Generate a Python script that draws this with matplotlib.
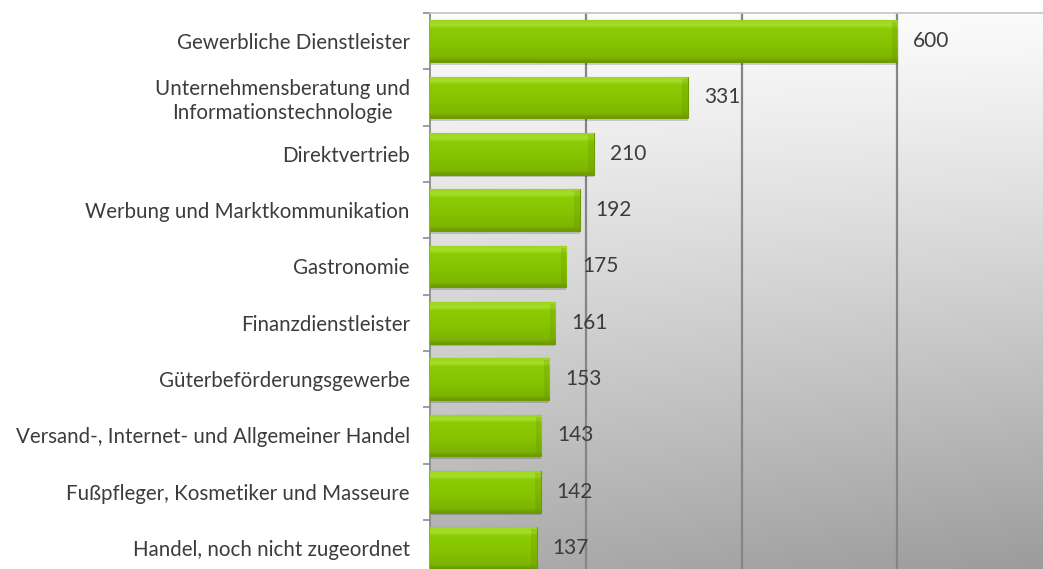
import numpy as np
import matplotlib.pyplot as plt
from matplotlib.colors import LinearSegmentedColormap

# categories, top to bottom
labels = ['Gewerbliche Dienstleister',
          'Unternehmensberatung und\nInformationstechnologie',
          'Direktvertrieb',
          'Werbung und Marktkommunikation',
          'Gastronomie',
          'Finanzdienstleister',
          'Güterbeförderungsgewerbe',
          'Versand-, Internet- und Allgemeiner Handel',
          'Fußpfleger, Kosmetiker und Masseure',
          'Handel, noch nicht zugeordnet']
values = [600, 331, 210, 192, 175, 161, 153, 143, 142, 137]
grid_ticks = [200, 400, 600]

plt.rcParams['font.family'] = ['Lato', 'DejaVu Sans']

W, H = 1043, 569
fig = plt.figure(figsize=(W / 100, H / 100), dpi=100)
ax = fig.add_axes([430 / W, 1 - 576.3 / H, 613 / W, 563.3 / H])

y = np.arange(len(values))
ax.set_xlim(0, 787)
ax.set_ylim(len(values) - 0.5, -0.5)

# plot-area background: light at top, grey at bottom, a bit darker right
gy = np.linspace(0, 1, 200)[:, None]
gx = np.linspace(0, 1, 200)[None, :]
shade = 0.985 - 0.31 * gy ** 1.15 - 0.07 * gx * gy
bg = np.dstack([shade, shade, shade])
ax.imshow(bg, extent=[0, 1, 0, 1], transform=ax.transAxes, aspect='auto',
          origin='upper', zorder=0, interpolation='bilinear')

for g in grid_ticks:
    ax.axvline(g, color='#858585', lw=1.6, zorder=1)

h = 0.74
# soft shadow under the bars
ax.barh(y + 0.045, values, height=h, color='#000000', alpha=0.16,
        zorder=2, linewidth=0)
bars = ax.barh(y, values, height=h, color='#88c800', edgecolor='#6e9c06',
               linewidth=0.8, zorder=3)

bar_cmap = LinearSegmentedColormap.from_list(
    'bevel', [(0.0, '#6a9800'), (0.1, '#7db400'), (0.45, '#86c400'),
              (0.8, '#8ccc04'), (0.88, '#a6de2c'), (1.0, '#9cd61a')])
grad = np.linspace(0, 1, 100)[:, None]
for b in bars:
    x0, y0, bw, bh = b.get_x(), b.get_y(), b.get_width(), b.get_height()
    im = ax.imshow(grad, cmap=bar_cmap, extent=[x0, x0 + bw, y0 + bh, y0],
                   origin='lower', aspect='auto', zorder=3.5,
                   interpolation='bilinear')
    im.set_clip_path(b)
    # darker bevel at the bar end
    ax.barh(y0 + bh / 2, 7, left=x0 + bw - 7, height=bh * 0.9,
            color='#5f8a00', alpha=0.22, linewidth=0, zorder=3.6)
    ax.annotate(f'{int(bw)}', xy=(x0 + bw, y0 + bh / 2), xytext=(16, 0),
                textcoords='offset pixels', va='center', ha='left',
                fontsize=15, color='#3c3c3c', zorder=5)

# ticks at category boundaries, labels at centres
ax.set_yticks(np.arange(len(values) + 1) - 0.5)
ax.set_yticklabels([])
ax.tick_params(axis='y', which='major', length=5, color='#8c8c8c', width=1.2)
ax.set_yticks(y, minor=True)
ax.set_yticklabels(labels, minor=True, fontsize=14.8, color='#3c3c3c',
                   multialignment='center')
ax.tick_params(axis='y', which='minor', length=0, pad=14.5)
ax.set_xticks([])

for s in ['right', 'bottom']:
    ax.spines[s].set_visible(False)
ax.spines['left'].set_color('#8c8c8c')
ax.spines['left'].set_linewidth(1.3)
ax.spines['top'].set_color('#c4c4c4')
ax.spines['top'].set_linewidth(1.2)

fig.savefig('out.png', dpi=100)
